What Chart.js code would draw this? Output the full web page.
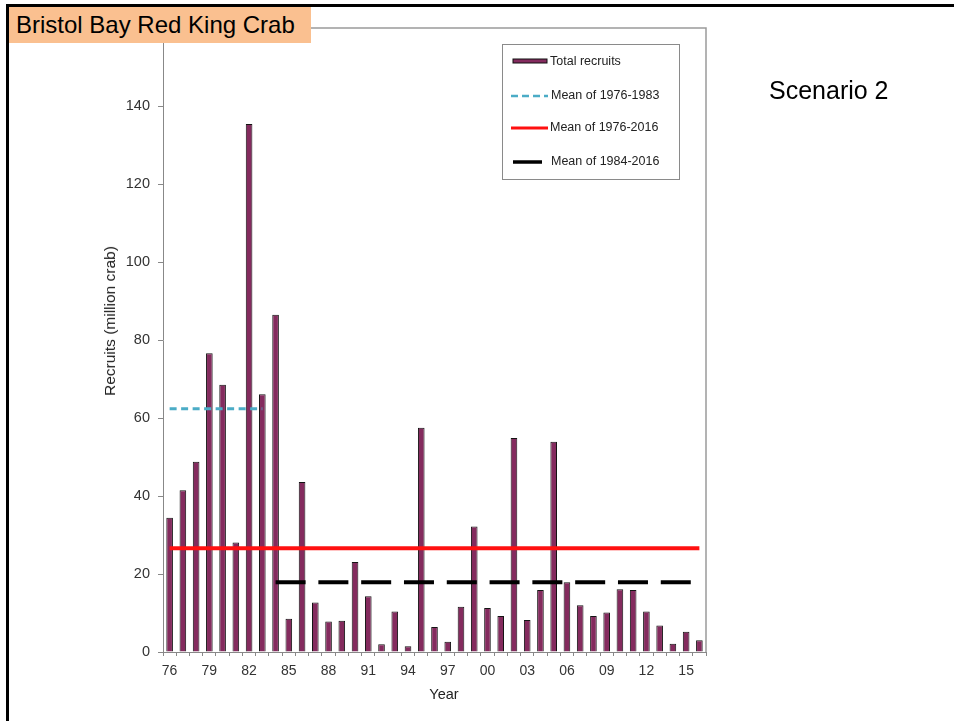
<!DOCTYPE html>
<html>
<head>
<meta charset="utf-8">
<script src="https://cdn.jsdelivr.net/npm/chart.js@4.4.0/dist/chart.umd.min.js"></script>
<style>
html,body{margin:0;padding:0;background:#fff;}
#wrap{position:relative;width:954px;height:721px;overflow:hidden;font-family:"Liberation Sans",Arial,sans-serif;}
#c{position:absolute;left:0;top:0;}
#frame{position:absolute;left:6px;top:4px;width:980px;height:760px;border-top:3px solid #000;border-left:3px solid #000;box-sizing:border-box;pointer-events:none;}
#title{position:absolute;left:9px;top:7px;width:302px;height:36px;background:#FAC090;font-size:24px;line-height:36px;padding-left:7px;box-sizing:border-box;color:#000;white-space:nowrap;}
#scen{position:absolute;left:769px;top:75px;font-size:25px;line-height:30px;color:#000;white-space:nowrap;}
#ytitle{position:absolute;left:110px;top:321px;transform:translate(-50%,-50%) rotate(-90deg);font-size:15.5px;color:#222;white-space:nowrap;}
#xtitle{position:absolute;left:444px;top:694px;transform:translate(-50%,-50%);font-size:14.5px;color:#222;white-space:nowrap;}
</style>
</head>
<body>
<div id="wrap">
<canvas id="c" width="954" height="721"></canvas>
<div id="frame"></div>
<div id="title">Bristol Bay Red King Crab</div>
<div id="scen">Scenario 2</div>
<div id="ytitle">Recruits (million crab)</div>
<div id="xtitle">Year</div>
</div>
<script>
// ---- data ----
const categories = ['1976','1977','1978','1979','1980','1981','1982','1983','1984','1985',
  '1986','1987','1988','1989','1990','1991','1992','1993','1994','1995',
  '1996','1997','1998','1999','2000','2001','2002','2003','2004','2005',
  '2006','2007','2008','2009','2010','2011','2012','2013','2014','2015','2016'];
const totalRecruits = [34.4,41.5,48.8,76.6,68.5,28.1,135.4,66.1,86.5,8.5,
  43.6,12.7,7.8,8.0,23.1,14.3,2.0,10.4,1.5,57.5,
  6.4,2.6,11.6,32.2,11.3,9.2,54.9,8.2,15.9,53.9,
  17.9,12.0,9.2,10.1,16.1,15.9,10.4,6.8,2.1,5.2,3.0];
const xTickLabels = ['76','79','82','85','88','91','94','97','00','03','06','09','12','15'];
const yTickValues = [0,20,40,60,80,100,120,140,160];
const mean1976_1983 = 62.4;
const mean1976_2016 = 26.6;
const mean1984_2016 = 17.9;
const seriesNames = ['Total recruits','Mean of 1976-1983','Mean of 1976-2016','Mean of 1984-2016'];

// mean lines spanning their year ranges
const blueLine = categories.map(y => (+y >= 1976 && +y <= 1983) ? mean1976_1983 : null);
const redLine = categories.map(y => mean1976_2016);
const blackLine = categories.map(y => (+y >= 1984 && +y <= 2016) ? mean1984_2016 : null);

const BAR = '#842b5e';
const FONT = '"Liberation Sans", Arial, sans-serif';

const frameAndLegend = {
  id: 'frameAndLegend',
  afterDraw(chart) {
    const ctx = chart.ctx;
    const a = chart.chartArea;
    ctx.save();
    // grey frame (top and right)
    ctx.strokeStyle = '#9a9a9a';
    ctx.lineWidth = 1.5;
    ctx.beginPath();
    ctx.moveTo(311, a.top);
    ctx.lineTo(a.right, a.top);
    ctx.lineTo(a.right, a.bottom);
    ctx.stroke();

    // legend box
    const lx = 502, ly = 44, lw = 177, lh = 135;
    ctx.fillStyle = '#fff';
    ctx.fillRect(lx, ly, lw, lh);
    ctx.strokeStyle = '#8a8a8a';
    ctx.lineWidth = 1;
    ctx.strokeRect(lx + 0.5, ly + 0.5, lw, lh);

    const ds = chart.data.datasets;
    ctx.font = '12.5px ' + FONT;
    ctx.textBaseline = 'middle';
    ctx.textAlign = 'left';
    // item 1: bar swatch
    ctx.fillStyle = ds[0].backgroundColor;
    ctx.fillRect(513, 59, 34, 4);
    ctx.strokeStyle = '#111';
    ctx.lineWidth = 1;
    ctx.strokeRect(513, 59, 34, 4);
    ctx.fillStyle = '#222';
    ctx.fillText(ds[0].label, 550, 62);
    // line items
    const items = [
      {d: ds[1], y: 96, x0: 511, x1: 548, tx: 551, w: 2.5, dash: [7, 4]},
      {d: ds[2], y: 128, x0: 511, x1: 548, tx: 550, w: 3, dash: []},
      {d: ds[3], y: 162, x0: 513, x1: 542, tx: 551, w: 3.5, dash: []}
    ];
    items.forEach(it => {
      ctx.strokeStyle = it.d.borderColor;
      ctx.lineWidth = it.w;
      ctx.setLineDash(it.dash);
      ctx.beginPath();
      ctx.moveTo(it.x0, it.y);
      ctx.lineTo(it.x1, it.y);
      ctx.stroke();
      ctx.setLineDash([]);
      ctx.fillStyle = '#222';
      ctx.fillText(it.d.label, it.tx, it.y);
    });
    ctx.restore();
  }
};

new Chart(document.getElementById('c'), {
  type: 'bar',
  data: {
    labels: categories,
    datasets: [
      {
        type: 'bar', label: seriesNames[0], data: totalRecruits,
        backgroundColor: BAR, borderColor: '#141414', borderWidth: 1,
        categoryPercentage: 1.0, barPercentage: 0.5, order: 2
      },
      {
        type: 'line', label: seriesNames[1], data: blueLine,
        borderColor: '#4bacc6', borderWidth: 3, borderDash: [7, 4.5],
        pointRadius: 0, fill: false, spanGaps: false, order: 1
      },
      {
        type: 'line', label: seriesNames[2], data: redLine,
        borderColor: '#ff1010', borderWidth: 4, pointRadius: 0, fill: false, order: 0
      },
      {
        type: 'line', label: seriesNames[3], data: blackLine,
        borderColor: '#000', borderWidth: 4, borderDash: [30, 12.8],
        pointRadius: 0, fill: false, spanGaps: false, order: 0
      }
    ]
  },
  options: {
    responsive: false,
    animation: false,
    devicePixelRatio: 1,
    layout: { padding: { left: 0, right: 248, top: 28, bottom: 0 } },
    plugins: { legend: { display: false }, tooltip: { enabled: false }, title: { display: false } },
    scales: {
      x: {
        offset: true,
        grid: { display: true, drawOnChartArea: false, drawTicks: true, tickLength: 4, color: '#888', offset: true },
        border: { display: true, color: '#888', width: 1 },
        ticks: {
          autoSkip: false, maxRotation: 0, minRotation: 0, padding: 7,
          color: '#333', font: { family: FONT, size: 14 },
          callback: function(v, i) {
            const s = categories[i].slice(2);
            return xTickLabels.includes(s) ? s : '';
          }
        },
        afterFit: s => { s.height = 69; }
      },
      y: {
        min: 0, max: 160,
        afterBuildTicks: s => { s.ticks = yTickValues.map(v => ({ value: v })); },
        grid: { display: true, drawOnChartArea: false, drawTicks: true, tickLength: 5, color: '#888' },
        border: { display: true, color: '#888', width: 1 },
        ticks: { padding: 8, color: '#333', font: { family: FONT, size: 14.5 } },
        afterFit: s => { s.width = 163; }
      }
    }
  },
  plugins: [frameAndLegend]
});
</script>
</body>
</html>
